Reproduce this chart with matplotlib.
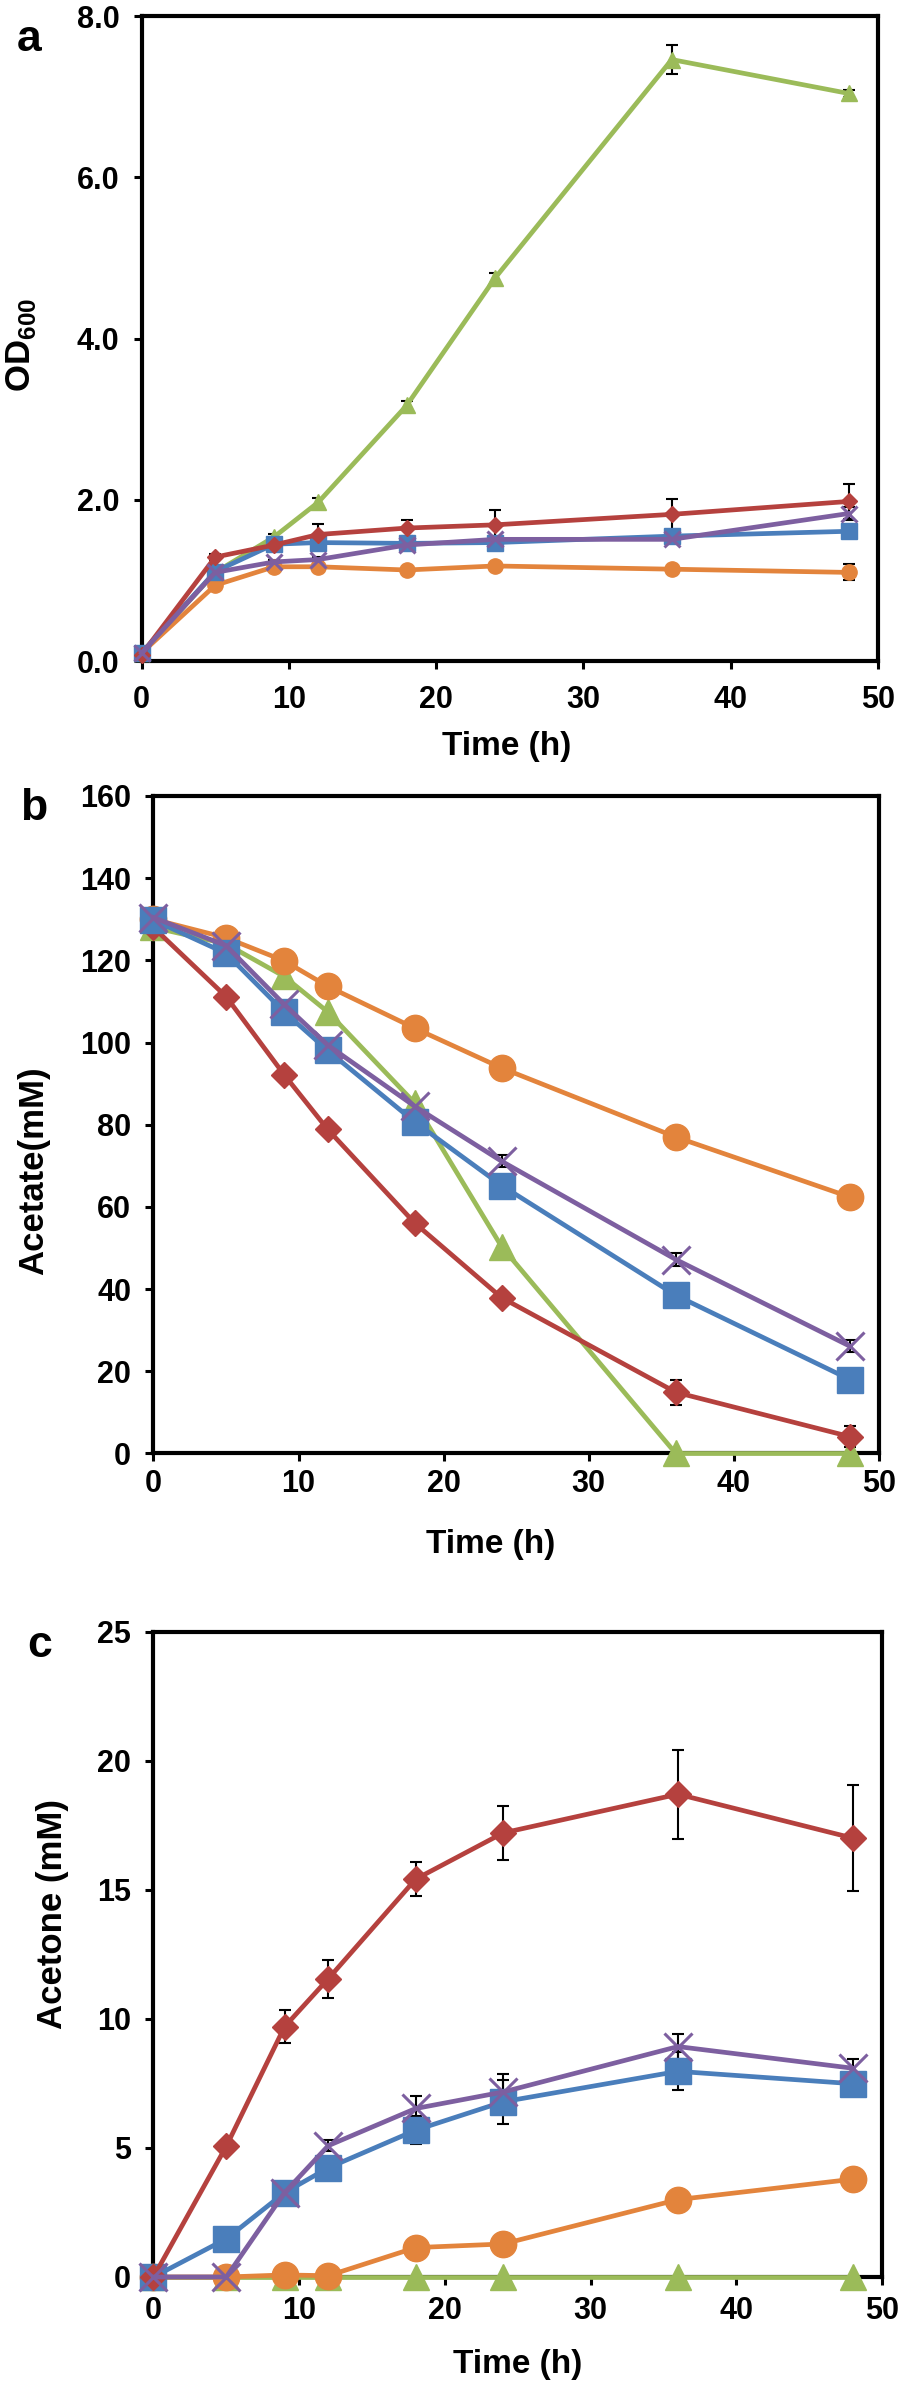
import matplotlib
matplotlib.use("Agg")
import matplotlib.pyplot as plt

plt.rcParams['font.family'] = ['Liberation Sans', 'DejaVu Sans']
plt.rcParams['font.weight'] = 'bold'
plt.rcParams['mathtext.fontset'] = 'custom'
plt.rcParams['mathtext.rm'] = 'Liberation Sans:bold'
plt.rcParams['mathtext.bf'] = 'Liberation Sans:bold'

# sampling times (h)
time_h = [0, 5, 9, 12, 18, 24, 36, 48]

# panel a - OD600
od_red = [0.08, 1.29, 1.44, 1.57, 1.65, 1.69, 1.82, 1.98]
od_red_err = [0.02, 0.04, 0.05, 0.13, 0.10, 0.19, 0.19, 0.22]
od_blue = [0.10, 1.11, 1.45, 1.47, 1.46, 1.47, 1.55, 1.61]
od_blue_err = [0.02, 0.03, 0.03, 0.03, 0.03, 0.03, 0.05, 0.03]
od_green = [0.10, 1.10, 1.54, 1.97, 3.17, 4.75, 7.46, 7.04]
od_green_err = [0.02, 0.03, 0.04, 0.05, 0.05, 0.06, 0.18, 0.04]
od_purple = [0.10, 1.10, 1.23, 1.26, 1.44, 1.51, 1.51, 1.83]
od_purple_err = [0.02, 0.03, 0.03, 0.03, 0.03, 0.03, 0.05, 0.08]
od_orange = [0.10, 0.94, 1.17, 1.17, 1.13, 1.18, 1.14, 1.10]
od_orange_err = [0.02, 0.03, 0.03, 0.03, 0.03, 0.03, 0.03, 0.10]

# panel b - acetate (mM)
ac_red = [128.0, 111.2, 92.2, 78.9, 56.1, 37.9, 14.9, 4.1]
ac_red_err = [0, 0, 0, 0, 0, 0, 3.0, 2.5]
ac_blue = [129.8, 121.7, 107.5, 98.1, 80.7, 65.2, 38.5, 18.0]
ac_blue_err = [0, 0, 0, 0, 0, 0, 0, 0]
ac_green = [128.0, 124.0, 116.1, 107.5, 85.3, 50.3, 0.0, 0.0]
ac_green_err = [0, 0, 0, 0, 0, 0, 0, 0]
ac_purple = [130.4, 123.6, 109.3, 99.4, 84.5, 71.1, 47.2, 26.1]
ac_purple_err = [0, 0, 0, 0, 0, 1.5, 1.5, 1.5]
ac_orange = [130.0, 125.5, 119.9, 113.7, 103.5, 93.8, 77.0, 62.4]
ac_orange_err = [0, 0, 0, 0, 0, 0, 0, 0]

# panel c - acetone (mM)
acn_red = [0.0, 5.07, 9.70, 11.56, 15.42, 17.21, 18.71, 17.01]
acn_red_err = [0, 0, 0.65, 0.73, 0.65, 1.04, 1.73, 2.05]
acn_blue = [0.0, 1.48, 3.27, 4.23, 5.69, 6.79, 7.97, 7.49]
acn_blue_err = [0, 0, 0.2, 0.3, 0.55, 0.86, 0.74, 0.3]
acn_green = [0.0, 0.0, 0.0, 0.0, 0.0, 0.0, 0.0, 0.0]
acn_green_err = [0, 0, 0, 0, 0, 0, 0, 0]
acn_purple = [0.0, 0.0, 3.27, 5.09, 6.53, 7.17, 8.93, 8.09]
acn_purple_err = [0, 0, 0.2, 0.2, 0.5, 0.7, 0.47, 0.35]
acn_orange = [0.0, 0.0, 0.08, 0.05, 1.14, 1.28, 3.00, 3.79]
acn_orange_err = [0, 0, 0, 0, 0, 0, 0, 0]

RED = '#B5413E'
BLUE = '#4A7EBB'
GREEN = '#9BBB59'
PURPLE = '#7D5FA0'
ORANGE = '#E3843C'


def draw_panel(ax, series, big, ylim, yticks, yfmt, xpad):
    # series: list of (values, errors, color, marker)
    for vals, errs, color, marker in series:
        ax.errorbar(time_h, vals, yerr=errs, fmt='none', ecolor='black',
                    elinewidth=1.5, capsize=4.5, capthick=1.5, zorder=2,
                    clip_on=False)
    z = 3
    for vals, errs, color, marker in series:
        if big:
            ms = {'o': 19, 's': 19, '^': 19, 'D': 13.5, 'x': 20}[marker]
        else:
            ms = {'o': 11, 's': 11, '^': 12, 'D': 8, 'x': 11}[marker]
        ax.plot(time_h, vals, color=color, lw=3.4, marker=marker, ms=ms,
                mfc=color, mec=color, mew=2.2 if marker == 'x' else 1,
                zorder=z, clip_on=False)
        z += 1

    ax.set_xlim(0, 50)
    ax.set_ylim(*ylim)
    ax.set_xticks(range(0, 51, 10))
    ax.set_yticks(yticks)
    ax.set_yticklabels([yfmt % v for v in yticks])
    for s in ax.spines.values():
        s.set_linewidth(3.0)
    ax.tick_params(axis='both', direction='out', length=6, width=2.2,
                   labelsize=22)
    ax.tick_params(axis='y', pad=10)
    ax.tick_params(axis='x', pad=xpad)
    ax.tick_params(top=False, right=False)


fig = plt.figure(figsize=(8.98, 23.91), dpi=100)

# a
ax_a = fig.add_axes([0.1576, 0.7235, 0.8201, 0.2698])
draw_panel(ax_a, [
    (od_green, od_green_err, GREEN, '^'),
    (od_orange, od_orange_err, ORANGE, 'o'),
    (od_blue, od_blue_err, BLUE, 's'),
    (od_red, od_red_err, RED, 'D'),
    (od_purple, od_purple_err, PURPLE, 'x'),
], False, (0, 8), [0, 2, 4, 6, 8], '%.1f', 11)
ax_a.set_xlabel('Time (h)', fontsize=24, fontweight='bold')
ax_a.set_ylabel(r'OD$_{600}$', fontsize=25, fontweight='bold')
ax_a.xaxis.set_label_coords(0.496, -0.132)
ax_a.yaxis.set_label_coords(-0.164, 0.49)

# b
ax_b = fig.add_axes([0.1709, 0.3921, 0.8079, 0.2750])
draw_panel(ax_b, [
    (ac_green, ac_green_err, GREEN, '^'),
    (ac_orange, ac_orange_err, ORANGE, 'o'),
    (ac_red, ac_red_err, RED, 'D'),
    (ac_blue, ac_blue_err, BLUE, 's'),
    (ac_purple, ac_purple_err, PURPLE, 'x'),
], True, (0, 160), list(range(0, 161, 20)), '%d', 5)
ax_b.set_xlabel('Time (h)', fontsize=24, fontweight='bold')
ax_b.set_ylabel('Acetate(mM)', fontsize=25, fontweight='bold')
ax_b.xaxis.set_label_coords(0.465, -0.139)
ax_b.yaxis.set_label_coords(-0.165, 0.43)

# c
ax_c = fig.add_axes([0.1709, 0.04768, 0.8112, 0.2698])
draw_panel(ax_c, [
    (acn_green, acn_green_err, GREEN, '^'),
    (acn_orange, acn_orange_err, ORANGE, 'o'),
    (acn_blue, acn_blue_err, BLUE, 's'),
    (acn_red, acn_red_err, RED, 'D'),
    (acn_purple, acn_purple_err, PURPLE, 'x'),
], True, (0, 25), [0, 5, 10, 15, 20, 25], '%d', 8)
ax_c.set_xlabel('Time (h)', fontsize=24, fontweight='bold')
ax_c.set_ylabel('Acetone (mM)', fontsize=25, fontweight='bold')
ax_c.xaxis.set_label_coords(0.50, -0.135)
ax_c.yaxis.set_label_coords(-0.138, 0.563)

for ax in (ax_a, ax_b, ax_c):
    ax.xaxis.label.set_va('center')
    ax.yaxis.label.set_va('center')

# panel letters
fig.text(17 / 898, 1 - 51 / 2391, 'a', fontsize=32, fontweight='bold', va='baseline')
fig.text(20 / 898, 1 - 820 / 2391, 'b', fontsize=32, fontweight='bold', va='baseline')
fig.text(27 / 898, 1 - 1657 / 2391, 'c', fontsize=32, fontweight='bold', va='baseline')

fig.savefig('out.png', dpi=100)
